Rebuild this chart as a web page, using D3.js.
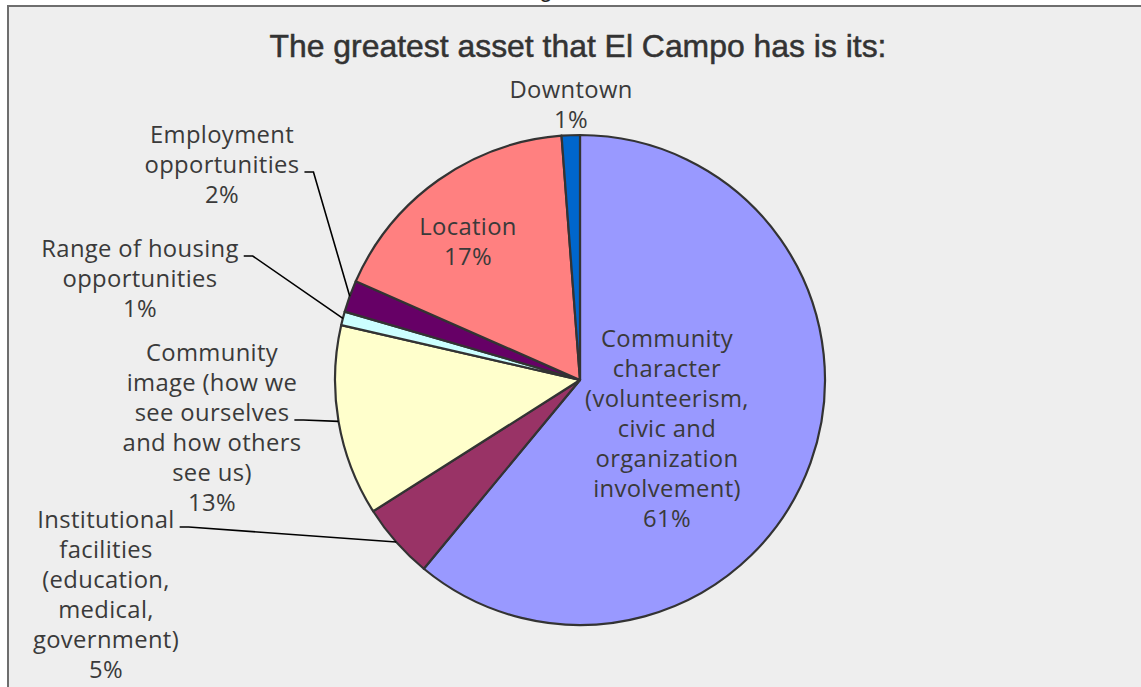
<!DOCTYPE html>
<html>
<head>
<meta charset="utf-8">
<script src="https://cdn.jsdelivr.net/npm/d3@7/dist/d3.min.js"></script>
<style>
  html, body { margin: 0; padding: 0; background: #ffffff; }
  svg { display: block; }
</style>
</head>
<body>
<svg id="chart" width="1141" height="687"></svg>
<script>
// ---- data ----
const title = "The greatest asset that El Campo has is its:";
const categories = [
  "Community character (volunteerism, civic and organization involvement)",
  "Institutional facilities (education, medical, government)",
  "Community image (how we see ourselves and how others see us)",
  "Range of housing opportunities",
  "Employment opportunities",
  "Location",
  "Downtown"
];
const values = [61.0, 5.0, 12.6, 0.9, 2.1, 17.2, 1.2];
const labelLines = [
  ["Community", "character", "(volunteerism,", "civic and", "organization", "involvement)"],
  ["Institutional", "facilities", "(education,", "medical,", "government)"],
  ["Community", "image (how we", "see ourselves", "and how others", "see us)"],
  ["Range of housing", "opportunities"],
  ["Employment", "opportunities"],
  ["Location"],
  ["Downtown"]
];
const colors = ["#9999FF", "#993366", "#FFFFCC", "#CCFFFF", "#660066", "#FF8080", "#0066CC"];

// ---- layout (label placement, not data) ----
const labelLayout = [
  { x: 667, y: 347, leader: null },
  { x: 106, y: 528, leader: { lineIdx: 0 } },
  { x: 212, y: 361, leader: { lineIdx: 2 } },
  { x: 140, y: 257, leader: { lineIdx: 0 } },
  { x: 222, y: 143, leader: { lineIdx: 1 } },
  { x: 468, y: 235, leader: null },
  { x: 571, y: 98,  leader: null }
];

const W = 1141, H = 687;
const cx = 580, cy = 380, R = 245;
const lineH = 30;
const textColor = "#3a3a3a";
const fontFam = "'Open Sans', 'DejaVu Sans', sans-serif";

const svg = d3.select("#chart");

// frame
svg.append("rect").attr("x", 0).attr("y", 0).attr("width", W).attr("height", H).attr("fill", "#ffffff");
svg.append("rect").attr("x", 8).attr("y", 6).attr("width", W + 20).attr("height", H + 20)
  .attr("fill", "#eeeeee").attr("stroke", "#6e6e6e").attr("stroke-width", 2);

// clipped heading fragment above the frame (as in the reference)
svg.append("text").attr("x", 546).attr("y", -3).attr("text-anchor", "middle")
  .attr("font-family", "'Liberation Sans', Arial, sans-serif").attr("font-size", 24).attr("fill", "#222").text("g");

// title
svg.append("text")
  .attr("x", 578).attr("y", 57)
  .attr("text-anchor", "middle")
  .attr("font-family", "'Liberation Sans', Arial, sans-serif")
  .attr("font-size", 31.5)
  .attr("fill", "#333333")
  .attr("stroke", "#333333")
  .attr("stroke-width", 0.5)
  .attr("textLength", 617)
  .attr("lengthAdjust", "spacingAndGlyphs")
  .text(title);

// pie
const pie = d3.pie().sort(null).value(d => d);
const arcs = pie(values);
const arcGen = d3.arc().innerRadius(0).outerRadius(R);

const g = svg.append("g").attr("transform", `translate(${cx},${cy})`);
g.selectAll("path.slice").data(arcs).enter().append("path")
  .attr("class", "slice")
  .attr("d", arcGen)
  .attr("fill", (d, i) => colors[i])
  .attr("stroke", "#333333")
  .attr("stroke-width", 2.2)
  .attr("stroke-linejoin", "round");

// labels
const labels = svg.append("g");
arcs.forEach((a, i) => {
  const lay = labelLayout[i];
  const lines = labelLines[i].concat([Math.round(values[i]) + "%"]);
  const t = labels.append("text")
    .attr("text-anchor", "middle")
    .attr("font-family", fontFam)
    .attr("font-size", 23.8)
    .attr("letter-spacing", 0.35)
    .attr("fill", textColor);
  lines.forEach((ln, k) => {
    t.append("tspan").attr("x", lay.x).attr("y", lay.y + k * lineH).text(ln);
  });
  if (lay.leader) {
    const tsp = t.selectAll("tspan").nodes()[lay.leader.lineIdx];
    const w = tsp.getComputedTextLength();
    const sx = lay.x + w / 2 + 5;
    const sy = lay.y + lay.leader.lineIdx * lineH - 1;
    const mid = (a.startAngle + a.endAngle) / 2;
    const ex = cx + R * Math.sin(mid);
    const ey = cy - R * Math.cos(mid);
    const hx = sx + 9;
    labels.append("polyline")
      .attr("points", `${sx},${sy} ${hx},${sy} ${ex},${ey}`)
      .attr("fill", "none")
      .attr("stroke", "#000000")
      .attr("stroke-width", 1.6);
  }
});
</script>
</body>
</html>
